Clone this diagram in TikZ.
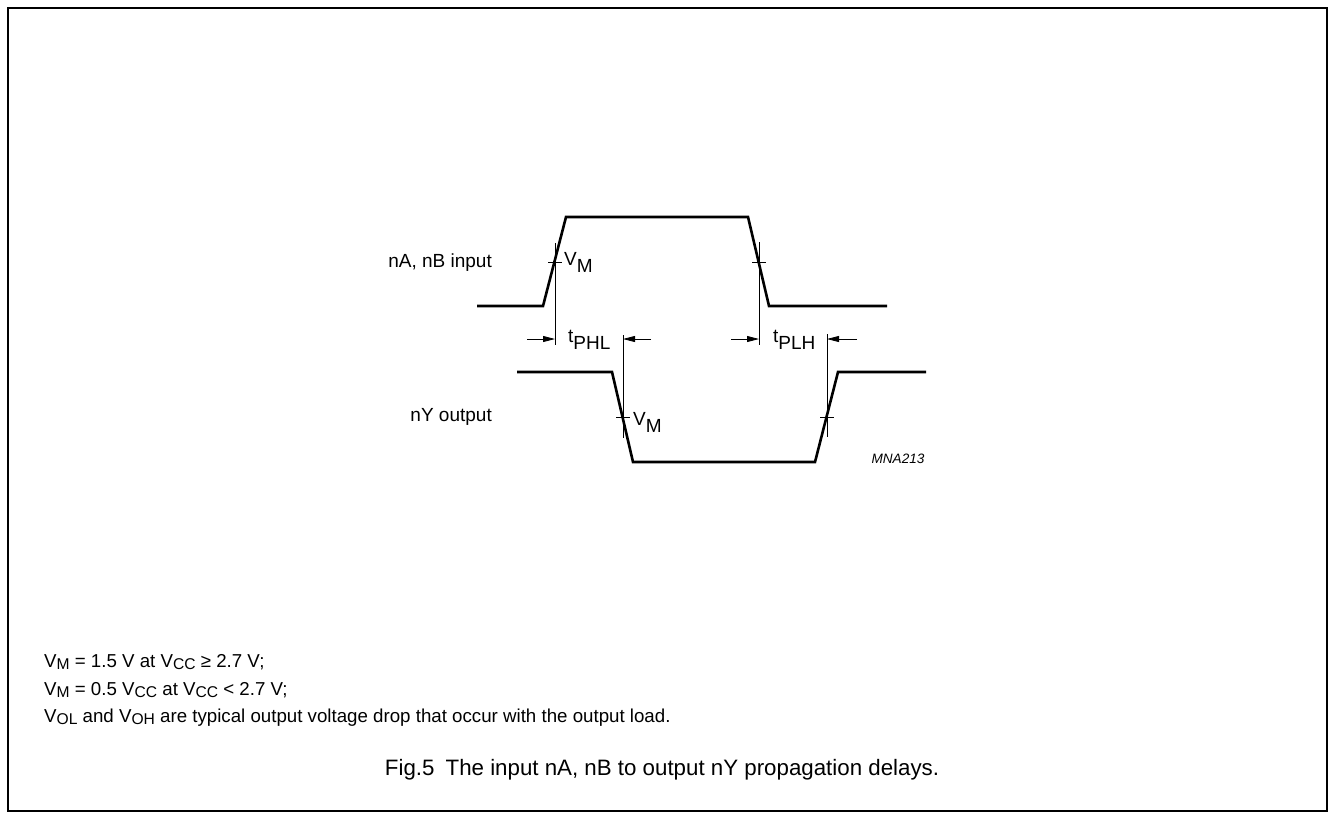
\documentclass[tikz,border=0pt]{standalone}
\usepackage{fontspec}
\setmainfont{Liberation Sans}
\usetikzlibrary{arrows.meta}
\newcommand\lsub[1]{\raisebox{-0.37em}{#1}}
\newcommand\nsub[1]{\raisebox{-0.3ex}{\fontsize{15.6}{17}\selectfont #1}}
\begin{document}
\begin{tikzpicture}[x=1pt,y=-1pt,
  wave/.style={line width=2.6pt, line join=miter},
  thinline/.style={line width=0.8pt},
  dimarrow/.style={line width=0.8pt, -{Triangle[length=12pt,width=6pt]}},
  lab/.style={font=\fontsize{19}{22}\selectfont, inner sep=0pt},
  note/.style={font=\fontsize{18.7}{21}\selectfont, anchor=base west, inner sep=0pt},
  framebox/.style={line width=2.5pt}]
\useasboundingbox (0,0) rectangle (1329,812);
\draw[framebox] (8,8) rectangle (1327,811);
% input waveform
\coordinate (i0) at (477,306);
\coordinate (i1) at (543,306);
\coordinate (i2) at (566,217);
\coordinate (i3) at (748,217);
\coordinate (i4) at (769,306);
\coordinate (i5) at (887,306);
\draw[wave] (i0) -- (i1) -- (i2) -- (i3) -- (i4) -- (i5);
% output waveform
\coordinate (o0) at (517,372);
\coordinate (o1) at (612,372);
\coordinate (o2) at (633,462);
\coordinate (o3) at (815,462);
\coordinate (o4) at (838,372);
\coordinate (o5) at (926,372);
\draw[wave] (o0) -- (o1) -- (o2) -- (o3) -- (o4) -- (o5);
% marker lines
\coordinate (m1t) at (555,243); \coordinate (m1b) at (555,345);
\coordinate (m1l) at (548,262); \coordinate (m1r) at (562,262);
\coordinate (m2t) at (759,242); \coordinate (m2b) at (759,345);
\coordinate (m2l) at (752,262); \coordinate (m2r) at (766,262);
\coordinate (m3t) at (623,335); \coordinate (m3b) at (623,438);
\coordinate (m3l) at (616,417); \coordinate (m3r) at (630,417);
\coordinate (m4t) at (827,334); \coordinate (m4b) at (827,437);
\coordinate (m4l) at (820,417); \coordinate (m4r) at (834,417);
\draw[thinline] (m1t) -- (m1b) (m1l) -- (m1r);
\draw[thinline] (m2t) -- (m2b) (m2l) -- (m2r);
\draw[thinline] (m3t) -- (m3b) (m3l) -- (m3r);
\draw[thinline] (m4t) -- (m4b) (m4l) -- (m4r);
% dimension arrows
\coordinate (a1s) at (527,339); \coordinate (a1e) at (555,339);
\coordinate (a2s) at (651,339); \coordinate (a2e) at (623,339);
\coordinate (a3s) at (731,339); \coordinate (a3e) at (759,339);
\coordinate (a4s) at (857,339); \coordinate (a4e) at (827,339);
\draw[dimarrow] (a1s) -- (a1e);
\draw[dimarrow] (a2s) -- (a2e);
\draw[dimarrow] (a3s) -- (a3e);
\draw[dimarrow] (a4s) -- (a4e);
% labels
\node[lab, anchor=east] (inlab) at (492,263) {nA, nB input};
\node[lab, anchor=east] (outlab) at (492,417) {nY output};
\node[lab, anchor=base west] (vm1) at (564,265) {V\lsub{M}};
\node[lab, anchor=base west] (vm2) at (633,425) {V\lsub{M}};
\node[lab, anchor=base west] (tphl) at (568,342) {t\lsub{PHL}};
\node[lab, anchor=base west] (tplh) at (773,342) {t\lsub{PLH}};
\node[inner sep=0pt, anchor=base, font=\fontsize{13.6}{16}\selectfont\itshape] (code) at (898,463) {MNA213};
% notes
\node[note] (n1) at (44,667) {V\nsub{M} = 1.5 V at V\nsub{CC} ≥ 2.7 V;};
\node[note] (n2) at (44,695) {V\nsub{M} = 0.5 V\nsub{CC} at V\nsub{CC} < 2.7 V;};
\node[note] (n3) at (44,722) {V\nsub{OL} and V\nsub{OH} are typical output voltage drop that occur with the output load.};
\node[inner sep=0pt, anchor=base, font=\fontsize{22.3}{26}\selectfont] (cap) at (662,775) {Fig.5\hspace{0.5em}The input nA, nB to output nY propagation delays.};
\end{tikzpicture}
\end{document}
